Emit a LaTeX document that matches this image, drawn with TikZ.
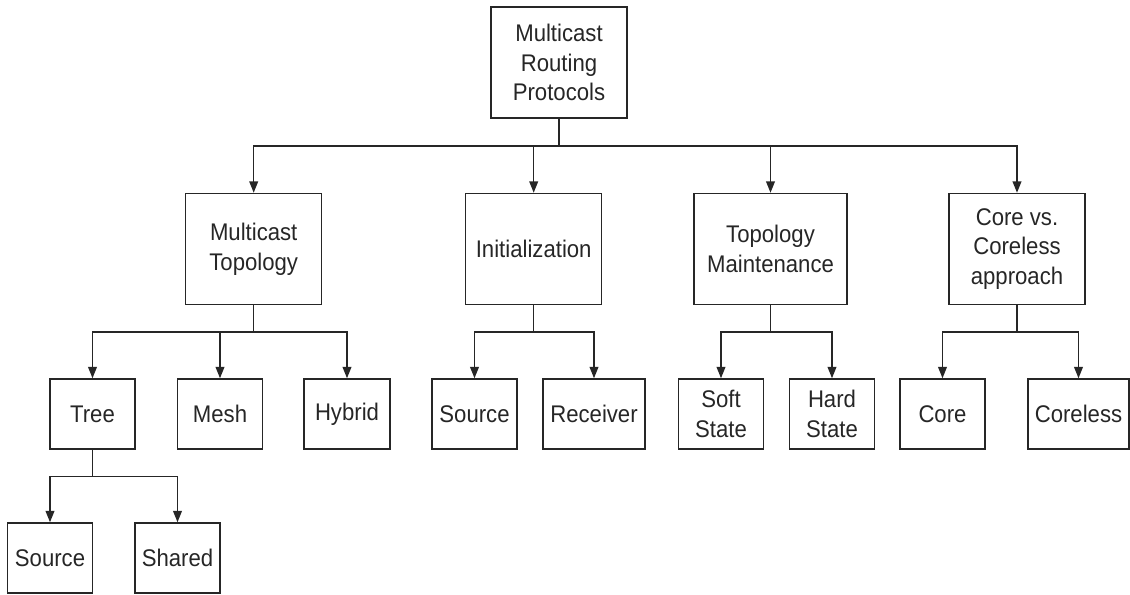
\documentclass[tikz,border=0pt]{standalone}
\usepackage{fontspec}
\setmainfont[FakeStretch=0.92]{Liberation Sans}
\usepackage{tikz}
\usetikzlibrary{arrows.meta,positioning}
\tikzset{
    category/.style={
    rectangle,draw=black!85,line width=0.85pt,inner sep=0pt,align=center,
    text=black!85,font=\fontsize{13.7}{16.9}\selectfont
    },
    bigcp/.style={
    category,minimum height=2.22cm
    },
    leafcp/.style={
    category,minimum height=1.40cm
    },
    branch/.style={
    draw=black!85,line width=0.85pt,-{Triangle[width=5pt,length=6.5pt]}
    },
}
\begin{document}
\begin{tikzpicture}
   \useasboundingbox (0,0) rectangle (22.6,11.88);
   \node[bigcp,minimum width=2.72cm] (mrp) at (11.18,10.63) {Multicast\\Routing\\Protocols};

   \node[bigcp,minimum width=2.72cm] (topo) at (5.074,6.90) {Multicast\\Topology};
   \node[bigcp,minimum width=2.72cm] (init) at (10.674,6.90) {Initialization};
   \node[bigcp,minimum width=3.06cm] (maint) at (15.41,6.90) {Topology\\Maintenance};
   \node[bigcp,minimum width=2.72cm] (corevs) at (20.34,6.90) {Core vs.\\Coreless\\approach};

   \node[leafcp,minimum width=1.70cm] (tree) at (1.85,3.60) {Tree};
   \node[leafcp,minimum width=1.70cm] (mesh) at (4.40,3.60) {Mesh};
   \node[leafcp,minimum width=1.72cm] (hybrid) at (6.94,3.60) {Hybrid};
   \node[leafcp,minimum width=1.70cm] (isource) at (9.49,3.60) {Source};
   \node[leafcp,minimum width=2.04cm] (receiver) at (11.88,3.60) {Receiver};
   \node[leafcp,minimum width=1.70cm] (soft) at (14.42,3.60) {Soft\\State};
   \node[leafcp,minimum width=1.70cm] (hard) at (16.64,3.60) {Hard\\State};
   \node[leafcp,minimum width=1.70cm] (core) at (18.85,3.60) {Core};
   \node[leafcp,minimum width=2.02cm] (coreless) at (21.57,3.60) {Coreless};

   \node[leafcp,minimum width=1.70cm] (tsource) at (1.00,0.72) {Source};
   \node[leafcp,minimum width=1.70cm] (shared) at (3.55,0.72) {Shared};

   % heights of the horizontal bus lines
   \coordinate (bus1) at (0,8.96);
   \coordinate (bus2) at (0,5.24);
   \coordinate (bus3) at (0,2.35);

   \foreach \c in {topo,init,maint,corevs}
     \draw[branch] (mrp.south) -- (mrp.south |- bus1) -| (\c.north);
   \foreach \c in {tree,mesh,hybrid}
     \draw[branch] (topo.south) -- (topo.south |- bus2) -| (\c.north);
   \foreach \c in {isource,receiver}
     \draw[branch] (init.south) -- (init.south |- bus2) -| (\c.north);
   \foreach \c in {soft,hard}
     \draw[branch] (maint.south) -- (maint.south |- bus2) -| (\c.north);
   \foreach \c in {core,coreless}
     \draw[branch] (corevs.south) -- (corevs.south |- bus2) -| (\c.north);
   \foreach \c in {tsource,shared}
     \draw[branch] (tree.south) -- (tree.south |- bus3) -| (\c.north);
\end{tikzpicture}
\end{document}
